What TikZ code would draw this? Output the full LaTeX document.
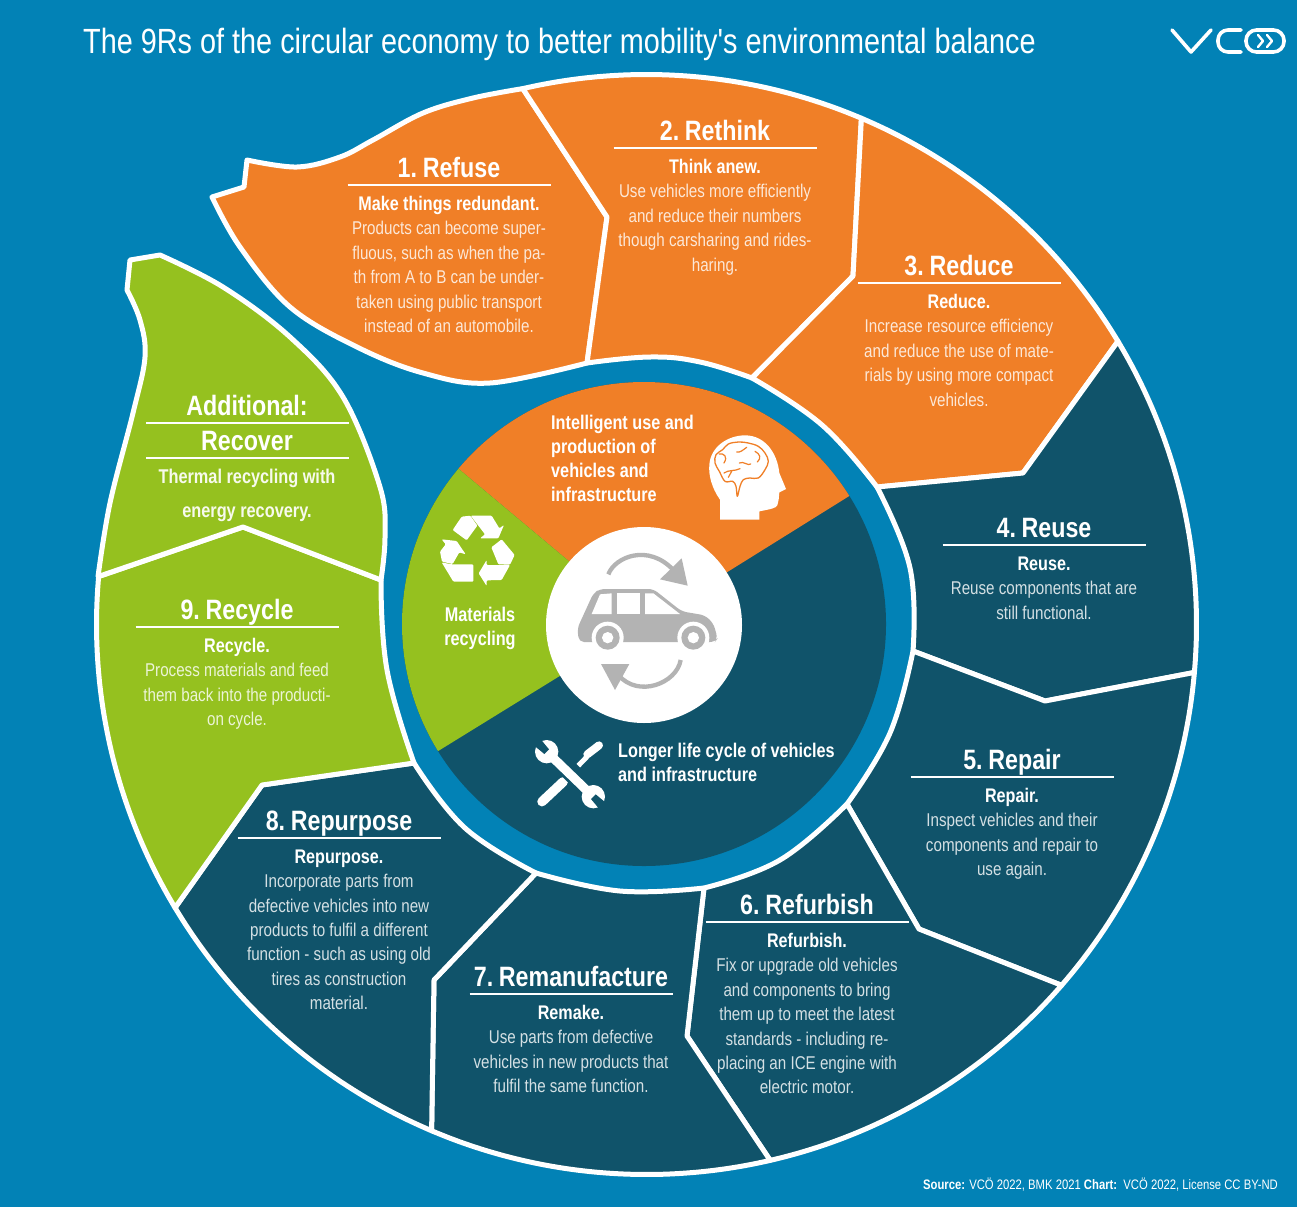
\documentclass[tikz,border=0pt]{standalone}
\usepackage{fontspec}
\setmainfont{Liberation Sans}[FakeStretch=0.82]
\newfontfamily\headfont{Liberation Sans}[FakeStretch=0.83,WordSpace=0.55]
\newfontfamily\titlefont{Liberation Sans}[FakeStretch=0.823]
\definecolor{bgblue}{HTML}{0282B6}
\definecolor{orng}{HTML}{F07F27}
\definecolor{dark}{HTML}{10536A}
\definecolor{grn}{HTML}{95C11F}
\definecolor{carg}{HTML}{B3B3B3}
\tikzset{
  panel/.style={draw=white,line width=5pt,line join=round},
  hrule/.style={draw=white,line width=2.2pt},
  headtext/.style={text=white,inner sep=0pt,anchor=base,font=\headfont\fontsize{28}{28}\selectfont\bfseries},
  bodytext/.style={inner sep=0pt,anchor=north,align=center,font=\fontsize{18.5}{24.4}\selectfont},
  centretext/.style={text=white,inner sep=0pt,anchor=north west,align=left,font=\fontsize{19.8}{24.1}\selectfont\bfseries},
  logoline/.style={draw=white,line width=3.6pt,line cap=round,line join=round},
  cararrow/.style={draw=carg,line width=4.3pt},
  iconscope/.style={shift={#1},x=0.33333pt,y=-0.33333pt}
}
\newcommand{\PanelText}[7]{%
  \node[headtext] (#1-head) at (#2,#3-8) {#4};
  \draw[hrule] (#2-101.5,#3) -- (#2+101.5,#3);
  \node[bodytext,text=white!82!#7] (#1-body) at (#2,#3+11)
    {\rule{0pt}{14pt}{\fontsize{19.7}{24.4}\selectfont\bfseries\textcolor{white}{#5}}\\#6};
}
% outer rim: one circle, sectors of 36 degrees
\newcommand{\rim}[2]{plot[domain=#1:#2,samples=24,smooth] ({646.5+550*cos(\x)},{624.5+550*sin(\x)})}
\begin{document}
\begin{tikzpicture}[x=1pt,y=-1pt]
\useasboundingbox (0,0) rectangle (1297,1207);
\fill[bgblue] (0,0) rectangle (1297,1207);

% --- outer spiral panels ---
\draw[panel,fill=orng] (212,197) -- (244,187) -- (247,160)
  -- plot[smooth,tension=.6] coordinates {(247,160) (297,167) (340,157) (373,140) (423,113) (473,98) (522.8,88.6)}
  -- (607,217) -- (587,363)
  -- plot[smooth,tension=.6] coordinates {(587,363) (490,383) (423,373) (357,347) (290,307) (240,247) (212,197)} -- cycle;
\draw[panel,fill=orng] \rim{-103}{-67}
  -- (853,276) -- (752,378)
  -- plot[smooth,tension=.7] coordinates {(752,378) (700,362) (650,357) (587,363)}
  -- (607,217) -- cycle;
\draw[panel,fill=orng] \rim{-67}{-31}
  -- (1023,473) -- (877,487)
  -- plot[smooth,tension=.7] coordinates {(877,487) (822,425) (752,378)}
  -- (853,276) -- cycle;
\draw[panel,fill=dark] \rim{-31}{5}
  -- (1045,701) -- (913,651)
  -- plot[smooth,tension=.7] coordinates {(913,651) (910,568) (877,487)}
  -- (1023,473) -- cycle;
\draw[panel,fill=dark] \rim{5}{41}
  -- (919,929) -- (847,804)
  -- plot[smooth,tension=.7] coordinates {(847,804) (890,733) (913,651)}
  -- (1045,701) -- cycle;
\draw[panel,fill=dark] \rim{41}{77}
  -- (687,1036) -- (704,888)
  -- plot[smooth,tension=.7] coordinates {(704,888) (780,860) (847,804)}
  -- (919,929) -- cycle;
\draw[panel,fill=dark] \rim{77}{113}
  -- (434,980) -- (536,873)
  -- plot[smooth,tension=.7] coordinates {(536,873) (620,891) (704,888)}
  -- (687,1036) -- cycle;
\draw[panel,fill=dark] \rim{113}{149}
  -- (262,785) -- (414,763)
  -- plot[smooth,tension=.7] coordinates {(414,763) (465,828) (536,873)}
  -- (434,980) -- cycle;
\draw[panel,fill=grn] \rim{149}{185}
  -- (243,527) -- (381,580)
  -- plot[smooth,tension=.7] coordinates {(381,580) (387,670) (414,763)}
  -- (262,785) -- cycle;
\draw[panel,fill=grn] (98,576.6)
  -- plot[smooth,tension=.6] coordinates {(98,576.6) (110,503) (133,413) (145,357) (140,320) (127,290)}
  -- (130,260) -- (160,255)
  -- plot[smooth,tension=.6] coordinates {(160,255) (223,287) (290,337) (343,397) (380,487) (385,537) (381,580)}
  -- (243,527) -- cycle;

% --- central disk ---
\begin{scope}
  \clip (644,624) circle[radius=242];
  \fill[dark] (400,380) rectangle (890,870);
  \fill[orng] (644,624) -- (300,336) -- (300,300) -- (1000,300) -- (1000,402) -- cycle;
  \fill[grn] (644,624) -- (300,336) -- (200,500) -- (200,898) -- cycle;
\end{scope}
\fill[white] (644,625) circle[radius=98];

% car
\begin{scope}[iconscope={(565,540)}]
  \fill[carg,rounded corners=5pt] (42,306) -- (37,265) -- (85,160) -- (105,147) -- (265,147) -- (350,214)
    -- (420,226) -- (445,250) -- (458,295) -- (450,306) -- cycle;
  \fill[white] (80,222) -- (105,163) -- (140,160) -- (140,222) -- cycle;
  \fill[white] (155,160) -- (225,160) -- (225,222) -- (155,222) -- cycle;
  \fill[white] (240,160) -- (265,160) -- (345,222) -- (240,222) -- cycle;
  \fill[white] (128,293) circle[radius=48pt*0.3333] (385,293) circle[radius=48pt*0.3333];
  \fill[carg] (128,293) circle[radius=36pt*0.3333] (385,293) circle[radius=36pt*0.3333];
  \fill[white] (128,293) circle[radius=17pt*0.3333] (385,293) circle[radius=17pt*0.3333];
  \draw[cararrow] (130,103) .. controls (150,50) and (250,10) .. (325,90);
  \fill[carg] (285,118) -- (350,55) -- (368,137) -- cycle;
  \draw[cararrow] (347,360) .. controls (335,430) and (220,475) .. (160,405);
  \fill[carg] (108,372) -- (193,372) -- (150,450) -- cycle;
\end{scope}

% recycling icon
\begin{scope}[iconscope={(430,505)}]
  \fill[white,rounded corners=1pt] (68,75) -- (95,35) -- (121,32) -- (142,62) -- (110,106) -- cycle;
  \fill[white,rounded corners=1pt] (122,32) -- (185,32) -- (208,70) -- (222,60) -- (205,100) -- (150,100) -- (165,88) -- cycle;
  \fill[white,rounded corners=1pt] (184,127) -- (215,103) -- (254,150) -- (240,179) -- (205,178) -- cycle;
  \fill[white,rounded corners=1pt] (205,180) -- (240,180) -- (215,225) -- (170,226) -- (170,243) -- (146,205) -- (170,165) -- (170,180) -- cycle;
  \fill[white,rounded corners=1pt] (35,103) -- (80,108) -- (107,148) -- (88,142) -- (68,177) -- (36,170) -- (30,140) -- (47,118) -- cycle;
  \fill[white,rounded corners=1pt] (35,172) -- (65,178) -- (130,178) -- (130,230) -- (70,230) -- cycle;
\end{scope}

% head with brain
\begin{scope}[iconscope={(700,428)}]
  \fill[white] (60,275) -- (60,215)
    .. controls (35,180) and (25,140) .. (28,110)
    .. controls (32,55) and (85,22) .. (135,22)
    .. controls (195,22) and (232,75) .. (238,135)
    -- (258,183) -- (238,193) -- (236,215) -- (232,232)
    .. controls (228,240) and (215,243) .. (178,250)
    -- (178,275) -- cycle;
  \draw[orng,line width=1.3pt,line join=round,line cap=round]
    plot[smooth cycle,tension=.6] coordinates {(112,205) (108,175) (98,160) (75,160) (58,130) (45,105) (48,80) (68,65) (85,48) (115,42) (145,45) (175,55) (195,75) (205,100) (195,125) (175,150) (150,150) (130,155) (120,175)};
  \draw[orng,line width=1.2pt,line cap=round]
    (58,78) .. controls (70,75) and (85,85) .. (72,105)
    (110,72) .. controls (120,75) and (130,65) .. (140,58)
    (118,105) .. controls (130,98) and (145,115) .. (152,108)
    (72,135) .. controls (85,125) and (105,130) .. (120,122)
    (165,70) .. controls (180,78) and (185,90) .. (172,102)
    (95,130) -- (85,148);
\end{scope}

% tools
\begin{scope}[iconscope={(530,735)}]
  \draw[white,line width=9.5pt,line cap=round] (36,200) -- (100,140);
  \draw[white,line width=5pt] (145,92) -- (172,64);
  \draw[white,line width=8pt,line cap=round] (172,58) -- (207,31);
  \draw[dark,line width=14.5pt] (65,65) -- (175,170);
  \draw[white,line width=9pt] (50,50) -- (190,185);
  \fill[white] (50,50) circle[radius=35pt*0.3333] (190,185) circle[radius=35pt*0.3333];
  \fill[dark] (57,43) -- (28,8) -- (8,28) -- (43,57) -- cycle;
  \fill[dark] (183,192) -- (212,227) -- (232,207) -- (197,178) -- cycle;
\end{scope}

% --- texts ---
\node[text=white,inner sep=0pt,anchor=base west,font=\titlefont\fontsize{35.03}{35}\selectfont] (title) at (83,54)
  {The 9Rs of the circular economy to better mobility's environmental balance};

\PanelText{refuse}{449}{185}{1. Refuse}{Make things redundant.}{Products can become super-\\fluous, such as when the pa-\\th from A to B can be under-\\taken using public transport\\instead of an automobile.}{orng}
\PanelText{rethink}{715}{148}{2. Rethink}{Think anew.}{Use vehicles more efficiently\\and reduce their numbers\\though carsharing and rides-\\haring.}{orng}
\PanelText{reduce}{959}{283}{3. Reduce}{Reduce.}{Increase resource efficiency\\and reduce the use of mate-\\rials by using more compact\\vehicles.}{orng}
\PanelText{reuse}{1044}{545}{4. Reuse}{Reuse.}{Reuse components that are\\still functional.}{dark}
\PanelText{repair}{1012}{777}{5. Repair}{Repair.}{Inspect vehicles and their\\components and repair to\\use again.}{dark}
\PanelText{refurbish}{807}{922}{6. Refurbish}{Refurbish.}{Fix or upgrade old vehicles\\and components to bring\\them up to meet the latest\\standards - including re-\\placing an ICE engine with\\electric motor.}{dark}
\PanelText{remanufacture}{571}{994}{7. Remanufacture}{Remake.}{Use parts from defective\\vehicles in new products that\\fulfil the same function.}{dark}
\PanelText{repurpose}{339}{838}{8. Repurpose}{Repurpose.}{Incorporate parts from\\defective vehicles into new\\products to fulfil a different\\function - such as using old\\tires as construction\\material.}{dark}
\PanelText{recycle}{237}{627}{9. Recycle}{Recycle.}{Process materials and feed\\them back into the producti-\\on cycle.}{grn}

\node[headtext] (additional) at (247,415) {Additional:};
\draw[hrule] (146,423) -- (349,423);
\node[headtext] (recover) at (247,450) {Recover};
\draw[hrule] (146,458) -- (349,458);
\node[bodytext,text=white!92!grn,font=\fontsize{19.9}{33.5}\selectfont\bfseries] (recovertext) at (247,469)
  {\rule{0pt}{14pt}Thermal recycling with\\energy recovery.};

\node[centretext] (intelligent) at (551,415) {Intelligent use and\\production of\\vehicles and\\infrastructure};
\node[centretext,align=center,anchor=north] (materials) at (480,607) {Materials\\recycling};
\node[centretext] (longer) at (618,743) {Longer life cycle of vehicles\\and infrastructure};

\node[text=white,inner sep=0pt,anchor=base east,font=\fontsize{13.75}{13.75}\selectfont] (source) at (1278,1189)
  {\textbf{Source:} VCÖ 2022, BMK 2021 \textbf{Chart:}\ \ VCÖ 2022, License CC BY-ND};

% logo
\draw[logoline] (1172,30) -- (1191,52) -- (1211,30);
\draw[logoline,rounded corners=10pt] (1241,30) -- (1218,30) -- (1218,52) -- (1241,52);
\draw[logoline,rounded corners=10.5pt] (1246,30) -- (1284,30) -- (1284,52) -- (1246,52) -- cycle;
\draw[white,line width=2.4pt,line cap=round,line join=round] (1258,35) -- (1263,41) -- (1258,47) (1267,35) -- (1272,41) -- (1267,47);
\end{tikzpicture}
\end{document}
